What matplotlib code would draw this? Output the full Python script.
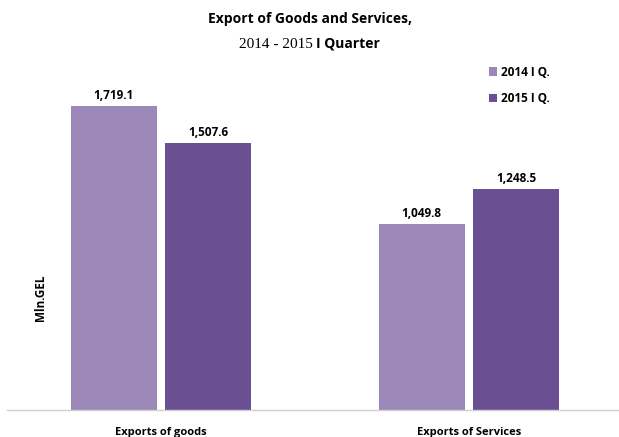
import matplotlib
matplotlib.use("Agg")
import matplotlib.pyplot as plt
import numpy as np

categories = ["Exports of goods", "Exports of Services"]
series_names = ["2014 I Q.", "2015 I Q."]
values_2014 = [1719.1, 1049.8]
values_2015 = [1507.6, 1248.5]
colors = ["#9b88b9", "#6a4f92"]

SANS = "Open Sans"
SERIF = "Liberation Serif"

fig = plt.figure(figsize=(6.19, 4.37), dpi=100)
ax = fig.add_axes([0.0113, 0.0618, 0.9887, 0.81])

x = np.arange(len(categories))
width = 0.279
offset = 0.1535
for vals, off, col, name in zip([values_2014, values_2015], [-offset, offset], colors, series_names):
    bars = ax.bar(x + off, vals, width=width, color=col, label=name, zorder=2)
    for b, v in zip(bars, vals):
        ax.text(b.get_x() + b.get_width() / 2, v + 22, f"{v:,.1f}",
                ha="center", va="bottom", fontsize=8.5, fontweight="bold",
                family=SANS, color="#000000")

ax.set_xlim(-0.5, 1.487)
ax.set_ylim(0, 2000)
ax.set_yticks([])
ax.set_xticks(x)
ax.set_xticklabels(categories, fontsize=8, fontweight="bold", family=SANS)
ax.tick_params(axis="x", length=0, pad=12)
for s in ["top", "right", "left"]:
    ax.spines[s].set_visible(False)
ax.spines["bottom"].set_color("#d0d0d0")
ax.spines["bottom"].set_linewidth(1.0)

fig.text(0.065, 1 - 298 / 437, "Mln.GEL", rotation=90, ha="center", va="center",
         fontsize=8.5, fontweight="bold", family=SANS)

# Title: first line bold, second line mixes serif years with bold sans
fig.text(0.5, 1 - 19 / 437, "Export of Goods and Services,", ha="center", va="center",
         fontsize=10, fontweight="bold", family=SANS)
t1 = fig.text(0.5, 1 - 44 / 437, "2014 - 2015 ", ha="left", va="center",
              fontsize=11, family=SERIF)
t2 = fig.text(0.5, 1 - 44 / 437, "I Quarter", ha="left", va="center",
              fontsize=10, fontweight="bold", family=SANS)
fig.canvas.draw()
w1 = t1.get_window_extent().width
w2 = t2.get_window_extent().width
start = 0.5 - (w1 + w2) / 2 / fig.bbox.width
t1.set_x(start)
t2.set_x(start + w1 / fig.bbox.width)

leg = ax.legend(loc="upper left", bbox_to_anchor=(0.77, 1.003), frameon=False,
                prop={"family": SANS, "weight": "bold", "size": 8.5},
                handlelength=0.7, handleheight=0.7, handletextpad=0.3,
                labelspacing=1.15)

fig.savefig("out.png", dpi=100, facecolor="white")
